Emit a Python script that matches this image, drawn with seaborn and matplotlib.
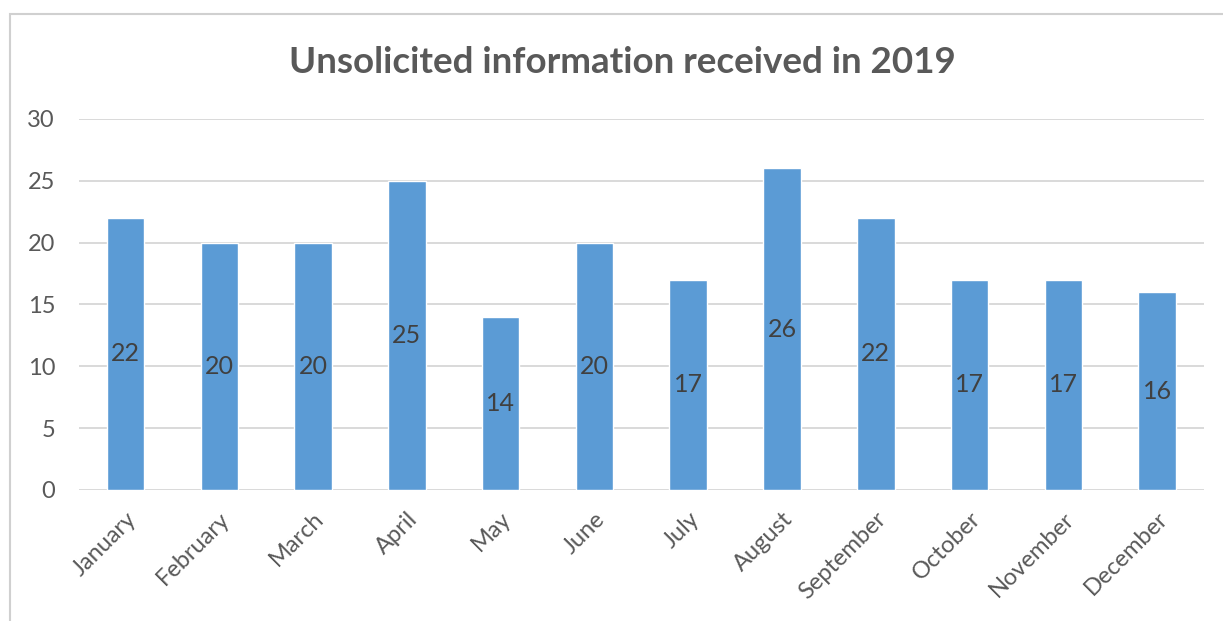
import matplotlib
matplotlib.use("Agg")
import matplotlib.pyplot as plt
import seaborn as sns
import pandas as pd
from matplotlib.patches import Rectangle

months = ["January", "February", "March", "April", "May", "June", "July",
          "August", "September", "October", "November", "December"]
counts = [22, 20, 20, 25, 14, 20, 17, 26, 22, 17, 17, 16]
yticks = [0, 5, 10, 15, 20, 25, 30]
title = "Unsolicited information received in 2019"

sns.set_theme(style="white")
plt.rcParams['font.family'] = ['Lato', 'DejaVu Sans']

df = pd.DataFrame({"month": months, "count": counts})

fig = plt.figure(figsize=(12.23, 6.21), dpi=100)
ax = fig.add_axes([0.0643, 0.2110, 0.9202, 0.5974])

sns.barplot(data=df, x="month", y="count", color="#5B9BD5", width=0.4,
            saturation=1, ax=ax, zorder=3)

ax.set_ylim(0, 30)
ax.set_xlim(-0.5, len(months) - 0.5)
ax.set_yticks(yticks)
ax.yaxis.grid(True, color="#d9d9d9", linewidth=1.4, zorder=0)
ax.set_axisbelow(True)
for s in ax.spines.values():
    s.set_visible(False)
ax.set_xlabel("")
ax.set_ylabel("")
ax.tick_params(axis="y", length=0, pad=17, labelsize=17, labelcolor="#595959")
ax.tick_params(axis="x", length=0, pad=13, labelsize=17, labelcolor="#595959")
for lbl in ax.get_xticklabels():
    lbl.set_rotation(45)
    lbl.set_ha("right")
    lbl.set_rotation_mode("anchor")

for p, v in zip(ax.patches, counts):
    ax.text(p.get_x() + p.get_width() / 2, v / 2, str(v), ha="center",
            va="center", fontsize=18, color="#404040", zorder=4)

fig.text(0.5087, 0.9, title, ha="center", va="center", fontsize=26.5,
         fontweight="bold", color="#595959")

fig.patches.append(Rectangle((10 / 1223, -0.1), 1.2, 1 - 14 / 621 + 0.1,
                             transform=fig.transFigure, fill=False,
                             edgecolor="#d0d0d0", linewidth=1.5))

fig.savefig("out.png", dpi=100)
